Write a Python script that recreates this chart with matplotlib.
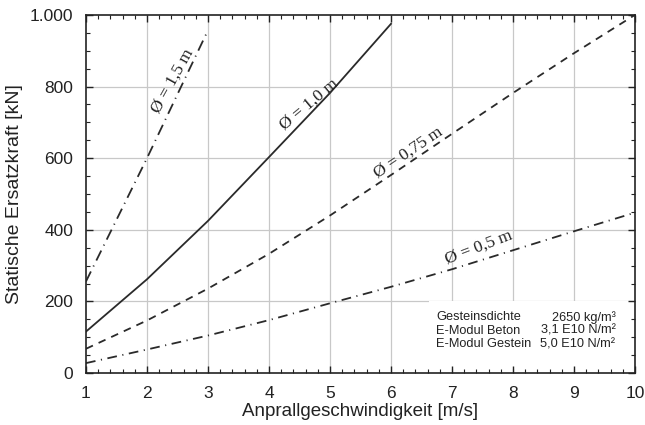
import matplotlib
matplotlib.use('Agg')
import matplotlib.pyplot as plt
from matplotlib.patches import Rectangle
from matplotlib.ticker import MultipleLocator

plt.rcParams['font.family'] = ['Liberation Sans', 'DejaVu Sans']
plt.rcParams['lines.scale_dashes'] = False

# Daten
v_05 = [1, 2, 3, 4, 5, 6, 7, 8, 9, 10]
F_05 = [28, 66, 105, 148, 195, 241, 290, 343, 396, 448]
v_075 = [1, 2, 3, 4, 5, 6, 7, 8, 9, 10]
F_075 = [68, 147, 236, 333, 440, 553, 668, 782, 893, 1000]
v_10 = [1, 2, 3, 4, 5, 6]
F_10 = [116, 262, 425, 603, 782, 975]
v_15 = [1, 2, 3]
F_15 = [256, 600, 957]

y_ticks = [0, 200, 400, 600, 800, 1000]
y_labels = ['0', '200', '400', '600', '800', '1.000']
x_ticks = [1, 2, 3, 4, 5, 6, 7, 8, 9, 10]

info_names = ['Gesteinsdichte', 'E-Modul Beton', 'E-Modul Gestein']
info_values = ['2650 kg/m³', '3,1 E10 N/m²', '5,0 E10 N/m²']

fig = plt.figure(figsize=(6.45, 4.25), dpi=100)
ax = fig.add_axes([0.1333, 0.122, 0.8512, 0.843])

line_col = '#2a2a2a'
grid_col = '#c8c8c8'

# Gitter von Hand, damit der Infokasten es abdecken kann
for xv in x_ticks[1:-1]:
    ax.axvline(xv, color=grid_col, lw=0.9, zorder=0.5)
for yv in y_ticks[1:-1]:
    ax.axhline(yv, color=grid_col, lw=0.9, zorder=0.5)
ax.add_patch(Rectangle((6.62, 12), 3.3, 190, facecolor='white', edgecolor='none', zorder=0.8))

ax.plot(v_05, F_05, color=line_col, lw=1.3, dashes=[7, 4, 0.8, 4], zorder=2)
ax.plot(v_075, F_075, color=line_col, lw=1.3, dashes=[5.5, 4.5], zorder=2)
ax.plot(v_10, F_10, color=line_col, lw=1.3, zorder=2)
ax.plot(v_15, F_15, color=line_col, lw=1.3, dashes=[8, 4, 0.8, 4], zorder=2)

serif = ['Liberation Serif', 'DejaVu Serif']
lab_kw = dict(family=serif, fontsize=12.5, color='#222222', ha='center', va='center',
              rotation_mode='anchor')
ax.text(2.42, 815, 'Ø = 1,5 m', rotation=61, **lab_kw)
ax.text(4.66, 750, 'Ø = 1,0 m', rotation=40, **lab_kw)
ax.text(6.28, 616, 'Ø = 0,75 m', rotation=34, **lab_kw)
ax.text(7.44, 352, 'Ø = 0,5 m', rotation=21, **lab_kw)

for i in range(3):
    yy = 156 - i * 38
    ax.text(6.74, yy, info_names[i], fontsize=9.2, color='#222222', va='center', ha='left')
    ax.text(9.68, yy, info_values[i], fontsize=9.2, color='#222222', va='center', ha='right')

ax.set_xlim(1, 10)
ax.set_ylim(0, 1000)
ax.set_xticks(x_ticks)
ax.set_yticks(y_ticks)
ax.set_yticklabels(y_labels)
ax.xaxis.set_minor_locator(MultipleLocator(0.2))
ax.yaxis.set_minor_locator(MultipleLocator(50))
ax.tick_params(which='both', direction='in', top=True, right=True, colors='#222222',
               labelsize=12.5)
ax.tick_params(which='major', length=5, width=1)
ax.tick_params(which='minor', length=3, width=0.8)
ax.tick_params(axis='x', pad=9)
ax.tick_params(axis='y', pad=9)
for s in ax.spines.values():
    s.set_linewidth(1.2)
    s.set_color('#222222')

ax.set_xlabel('Anprallgeschwindigkeit [m/s]', fontsize=13.5, color='#222222', labelpad=2)
ax.set_ylabel('Statische Ersatzkraft [kN]', fontsize=14, color='#222222', labelpad=5)

fig.savefig('out.png', dpi=100)
